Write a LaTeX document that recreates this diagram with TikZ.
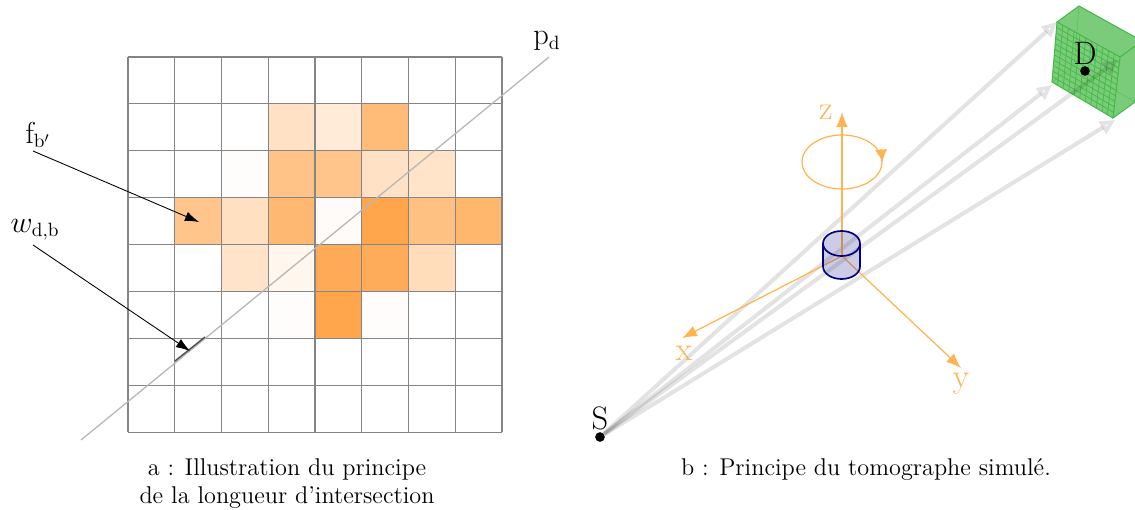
\documentclass[tikz,border=0pt]{standalone}
\usepackage{amsmath,amssymb}
\usetikzlibrary{arrows.meta,calc,positioning}
\definecolor{cellorange}{RGB}{255,166,77}
\definecolor{axisorange}{RGB}{255,180,80}
\definecolor{boxgreen}{RGB}{70,185,70}
\definecolor{cylblue}{RGB}{0,0,128}
\tikzset{
  gridline/.style={draw=black!48,line width=0.6pt},
  axisline/.style={draw=axisorange,line width=0.7pt},
  axislabel/.style={text=axisorange,font=\fontsize{19}{19}\selectfont,inner sep=0pt},
  raylight/.style={draw=black,draw opacity=0.11,line width=2.3pt},
  pointer/.style={-{Latex[length=8pt,width=5.5pt]},line width=0.5pt},
  marklabel/.style={font=\fontsize{16}{16}\selectfont,inner sep=0pt},
  pointlabel/.style={font=\fontsize{18.5}{19}\selectfont,inner sep=0pt},
  caption/.style={font=\fontsize{13.8}{16}\selectfont,inner sep=0pt,align=center},
  dot/.style={circle,fill=black,inner sep=0pt,minimum size=5.5pt}
}
\begin{document}
\begin{tikzpicture}[x=0.02cm,y=-0.02cm]
  \useasboundingbox (0,0) rectangle (1135,510);

  % coloured cells: column/row/strength
  \foreach \col/\row/\val in {3/1/32,4/1/22,5/1/75,
      2/2/2,3/2/67,4/2/65,5/2/32,6/2/30,
      1/3/65,2/3/35,3/3/80,4/3/4,5/3/100,6/3/70,7/3/82,
      2/4/30,3/4/10,4/4/95,5/4/93,6/4/38,
      3/5/2,4/5/100,5/5/2}
    \fill[cellorange!\val!white] ({128+46.75*\col},{57+46.9*\row}) rectangle ++(46.75,46.9);
  \foreach \i in {0,...,8} {
    \draw[gridline] ({128+46.75*\i},57) -- ({128+46.75*\i},432);
    \draw[gridline] (128,{57+46.9*\i}) -- (502,{57+46.9*\i});
  }

  % projection line
  \coordinate (pdA) at (81,440);
  \coordinate (pdB) at (549,57);
  \coordinate (wA) at (175,361);
  \coordinate (wB) at (205,337);
  \draw[draw=black!28,line width=0.75pt] (pdA) -- (pdB);
  \draw[draw=black!70,line width=0.8pt] (wA) -- (wB);
  \node[marklabel] (pd) at (547,41) {$\mathrm{p}_{\mathrm{d}}$};

  \node[marklabel] (fb) at (38,135) {$\mathrm{f}_{\mathrm{b}'}$};
  \node[marklabel] (wdb) at (35,230) {$w_{\mathrm{d,b}}$};
  \coordinate (fbStart) at (33,151);
  \coordinate (wdbStart) at (33,245);
  \coordinate (fbEnd) at (199,222);
  \coordinate (wdbEnd) at (190,351);
  \draw[pointer] (fbStart) -- (fbEnd);
  \draw[pointer] (wdbStart) -- (wdbEnd);

  \node[caption] (capA) at (287,484) {a : Illustration du principe\\de la longueur d'intersection};
  \node[caption] (capB) at (866,470) {b : Principe du tomographe simulé.};

  % detector box
  \begin{scope}
    \clip (0,0) rectangle (1135,510);
    \coordinate (fTL) at (1057,22);
    \coordinate (fBL) at (1052,82);
    \coordinate (fBR) at (1113,118);
    \coordinate (fTR) at (1120,57);
    \coordinate (bTL) at (1079,6);
    \coordinate (bTR) at (1142,41);
    \coordinate (bBR) at (1135,102);
    \coordinate (bBL) at (1074,66);
    \fill[boxgreen,fill opacity=0.72] (fTL) -- (bTL) -- (bTR) -- (bBR) -- (fBR) -- (fBL) -- cycle;
    \draw[boxgreen,line width=0.35pt,opacity=0.6] (bTL) -- (bBL) -- (bBR) (bBL) -- (fBL);
    \draw[boxgreen,line width=0.6pt] (fTL) -- (bTL) -- (bTR) -- (fTR) -- cycle;
    \draw[boxgreen,line width=0.6pt] (fTR) -- (fBR) -- (bBR) -- (bTR);
    \draw[boxgreen,line width=0.6pt] (fTL) -- (fBL) -- (fBR);
    \foreach \k in {1,...,10} {
      \draw[boxgreen,line width=0.45pt] ($(fTL)!\k/11!(fTR)$) -- ($(fBL)!\k/11!(fBR)$);
      \draw[boxgreen,line width=0.45pt] ($(fTL)!\k/11!(fBL)$) -- ($(fTR)!\k/11!(fBR)$);
    }
  \end{scope}
  \node[dot] (det) at (1085,71) {};
  \node[pointlabel] (detL) at (1085,53) {D};

  % rays from the source to the detector
  \node[dot] (src) at (600,437) {};
  \node[pointlabel] (srcL) at (600,418) {S};
  \coordinate (rayA) at (1057,22);
  \coordinate (rayB) at (1052,85);
  \coordinate (rayC) at (1118,60);
  \coordinate (rayD) at (1115,120);
  \foreach \tip in {rayA,rayB,rayC,rayD}
    \draw[raylight,-{Triangle[open,length=8.5pt,width=8pt]}] (src) -- (\tip);

  % axes
  \coordinate (orig) at (842,256);
  \coordinate (zEnd) at (842,112);
  \coordinate (xEnd) at (682,338);
  \coordinate (yEnd) at (961,368);
  \foreach \tip in {zEnd,xEnd,yEnd}
    \draw[axisline,-{Latex[length=8.5pt,width=6.5pt]}] (orig) -- (\tip);
  \node[axislabel] (zL) at (826,112) {z};
  \node[axislabel] (xL) at (684,353) {x};
  \node[axislabel] (yL) at (961,384) {y};
  \draw[axisline] (842,162) ellipse [x radius=40,y radius=27];
  \coordinate (rotA) at (881,149);
  \coordinate (rotB) at (882.5,162);
  \draw[axisline,-{Latex[length=7pt,width=7pt]}] (rotA) -- (rotB);

  % cylinder
  \fill[cylblue,fill opacity=0.2] (823,243.5) -- (823,266.5) arc[start angle=180,end angle=0,x radius=18.5,y radius=12.5]
    -- (860,243.5) arc[start angle=0,end angle=-180,x radius=18.5,y radius=12.5] -- cycle;
  \draw[cylblue,line width=0.95pt] (841.5,243.5) ellipse [x radius=18.5,y radius=12.5];
  \draw[cylblue,line width=0.95pt] (823,243.5) -- (823,266.5) arc[start angle=180,end angle=0,x radius=18.5,y radius=12.5] -- (860,243.5);
\end{tikzpicture}
\end{document}
